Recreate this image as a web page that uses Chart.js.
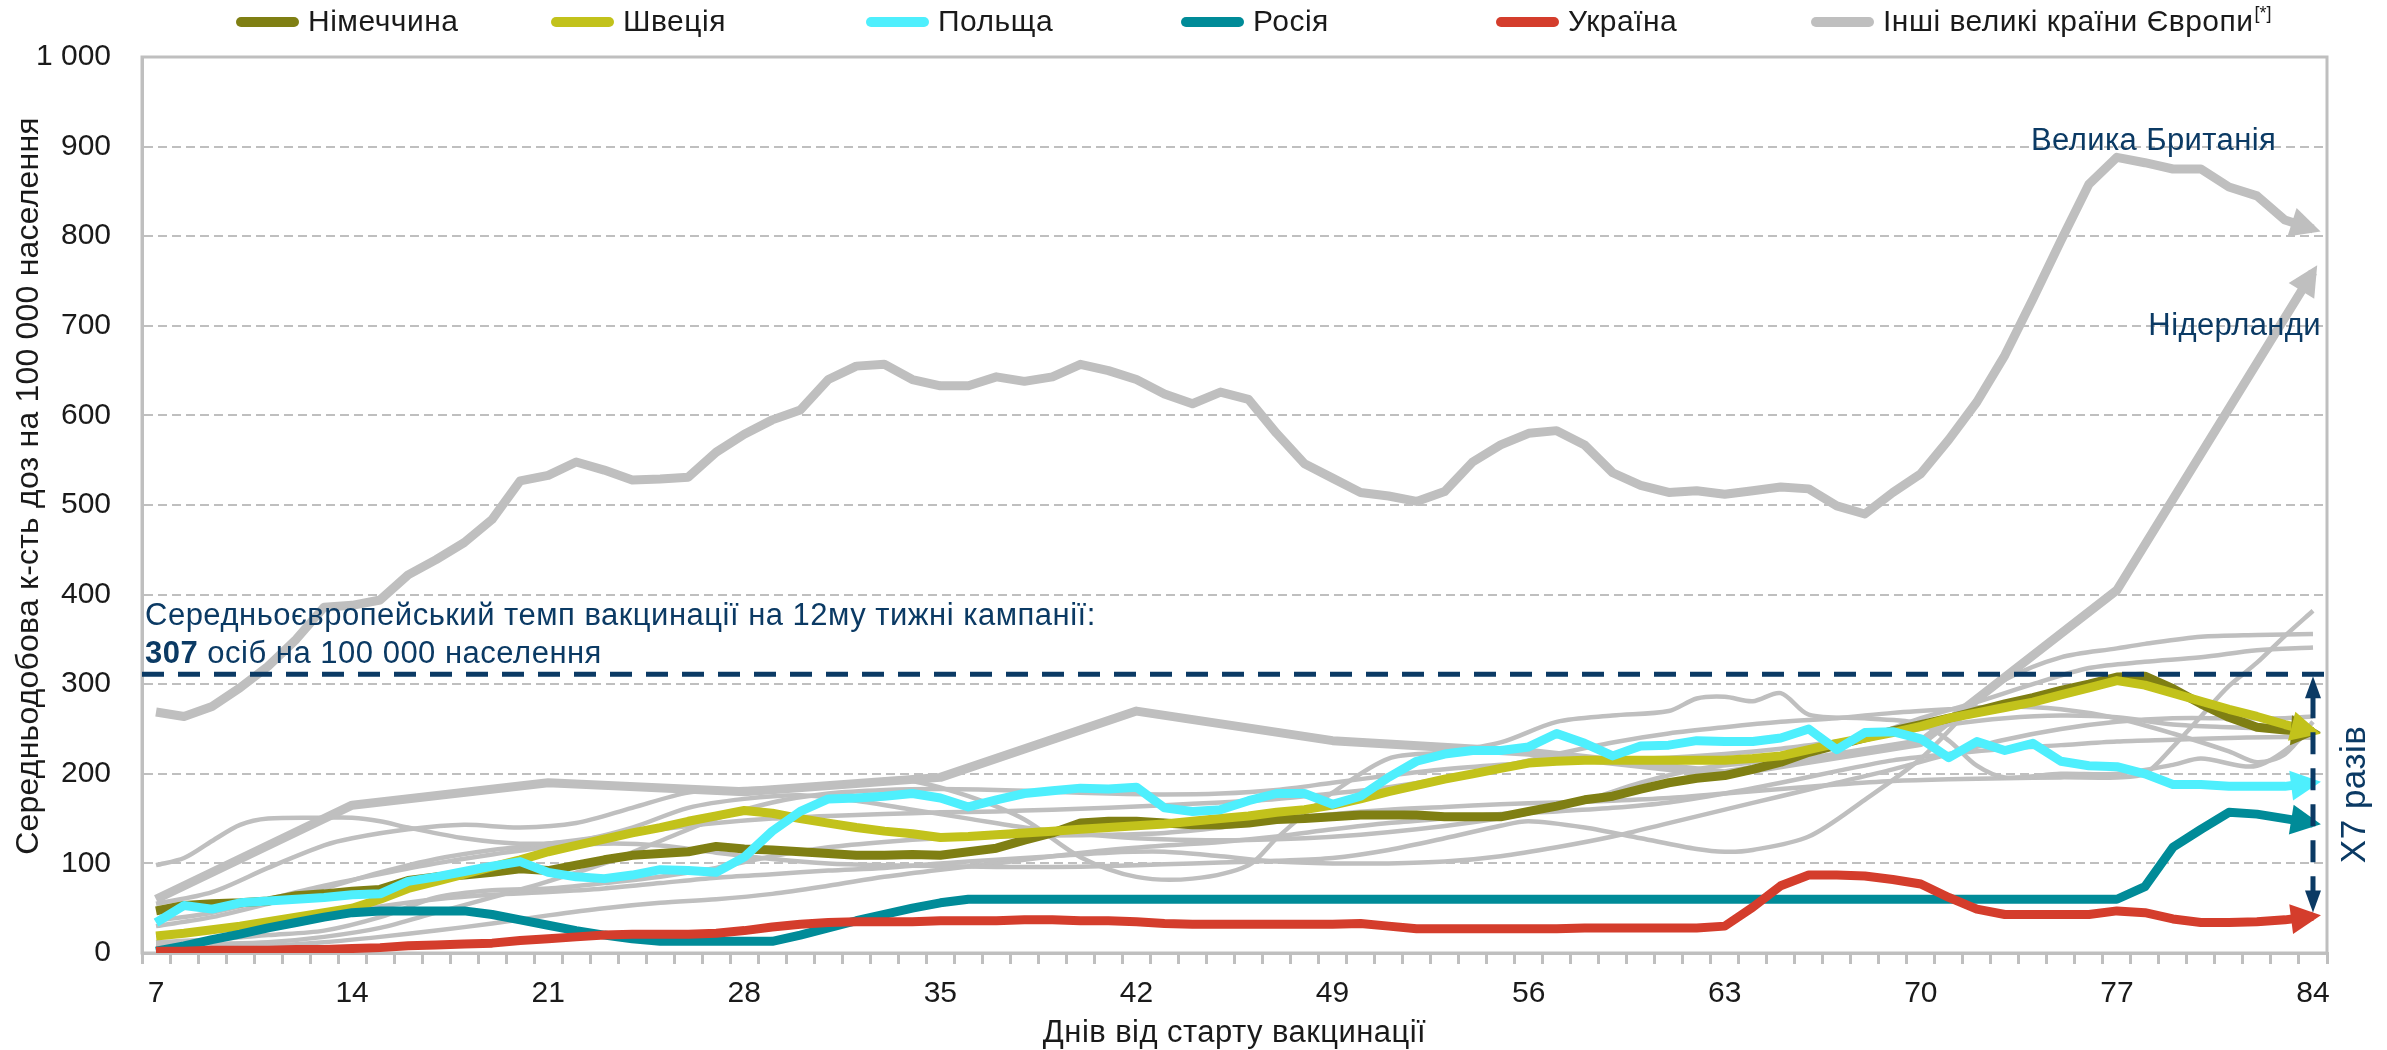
<!DOCTYPE html>
<html>
<head>
<meta charset="utf-8">
<script src="https://cdn.jsdelivr.net/npm/chart.js@4.4.1/dist/chart.umd.min.js"></script>
<style>
  html, body { margin: 0; padding: 0; background: #fff; }
  #wrap { width: 2387px; height: 1050px; position: relative; }
</style>
</head>
<body>
<div id="wrap"><canvas id="chart"></canvas></div>
<script>
'use strict';

// ── Data ─────────────────────────────────────────────────────────────────────
const days = [7, 8, 9, 10, 11, 12, 13, 14, 15, 16, 17, 18, 19, 20, 21, 22, 23, 24, 25, 26,
  27, 28, 29, 30, 31, 32, 33, 34, 35, 36, 37, 38, 39, 40, 41, 42, 43, 44, 45, 46, 47, 48,
  49, 50, 51, 52, 53, 54, 55, 56, 57, 58, 59, 60, 61, 62, 63, 64, 65, 66, 67, 68, 69, 70,
  71, 72, 73, 74, 75, 76, 77, 78, 79, 80, 81, 82, 83, 84];

const germany = [47, 53, 55, 56, 58, 64, 66, 69, 71, 81, 85, 87, 90, 94, 92, 98, 104, 109, 111, 113,
  119, 116, 115, 113, 111, 109, 109, 110, 109, 113, 117, 126, 134, 145, 147, 147, 145, 143, 143, 145,
  149, 150, 152, 154, 154, 154, 152, 152, 152, 158, 164, 171, 175, 183, 190, 195, 198, 205, 213, 224,
  232, 240, 248, 255, 262, 270, 278, 285, 293, 300, 308, 309, 295, 278, 263, 252, 249, 247];

const sweden = [19, 22, 26, 30, 35, 40, 45, 50, 60, 72, 80, 88, 96, 104, 113, 120, 127, 134, 140, 147,
  153, 159, 156, 150, 145, 140, 136, 133, 129, 130, 132, 134, 136, 138, 140, 142, 144, 147, 150, 153,
  157, 160, 165, 172, 180, 187, 194, 200, 206, 212, 214, 215, 215, 215, 215, 215, 215, 217, 220, 227,
  234, 240, 246, 253, 262, 268, 274, 280, 288, 296, 304, 299, 290, 281, 272, 264, 255, 247];

const poland = [34, 53, 49, 56, 58, 60, 62, 65, 66, 80, 85, 91, 97, 102, 90, 85, 83, 87, 93, 92,
  90, 107, 136, 158, 172, 173, 175, 178, 173, 163, 171, 178, 181, 184, 183, 185, 162, 158, 160, 170,
  178, 178, 166, 175, 196, 214, 222, 226, 226, 230, 245, 234, 220, 231, 232, 237, 236, 236, 240, 250,
  227, 246, 247, 239, 218, 236, 226, 234, 214, 209, 208, 200, 188, 188, 186, 186, 186, 190];

const russia = [2, 8, 15, 21, 28, 34, 40, 45, 47, 47, 47, 47, 43, 37, 31, 25, 20, 16, 13, 13,
  13, 13, 13, 20, 28, 36, 43, 50, 56, 60, 60, 60, 60, 60, 60, 60, 60, 60, 60, 60,
  60, 60, 60, 60, 60, 60, 60, 60, 60, 60, 60, 60, 60, 60, 60, 60, 60, 60, 60, 60,
  60, 60, 60, 60, 60, 60, 60, 60, 60, 60, 60, 74, 118, 138, 157, 155, 150, 145];

const ukraine = [2, 2, 3, 3, 3, 4, 4, 5, 6, 8, 9, 10, 11, 14, 16, 18, 20, 21, 21, 21,
  22, 25, 29, 32, 34, 35, 35, 35, 36, 36, 36, 37, 37, 36, 36, 35, 33, 32, 32, 32,
  32, 32, 32, 33, 30, 27, 27, 27, 27, 27, 27, 28, 28, 28, 28, 28, 30, 51, 75, 87,
  87, 86, 82, 77, 62, 49, 43, 43, 43, 43, 47, 45, 38, 34, 34, 35, 37, 41];

const greatBritain = [269, 264, 275, 296, 320, 350, 386, 388, 394, 422, 439, 458, 484, 527, 533, 548, 539, 528, 529, 531,
  559, 579, 595, 606, 640, 655, 657, 640, 633, 633, 643, 638, 643, 657, 650, 640, 624, 613, 626, 618,
  580, 546, 530, 514, 510, 504, 515, 548, 567, 580, 583, 567, 536, 522, 514, 516, 512, 516, 520, 518,
  499, 490, 514, 535, 573, 615, 667, 730, 795, 858, 888, 882, 875, 875, 855, 845, 818, 808];

// Netherlands reports weekly: [day, value]
const netherlands = [[7, 60], [14, 165], [21, 190], [28, 180], [35, 196], [42, 270], [49, 237],
  [56, 224], [63, 200], [70, 235], [77, 405], [84, 760]];

// other large European countries (thin grey lines): [day, value]
const other1 = [[7, 98], [8, 106], [9, 125], [10, 143], [11, 150], [13, 151], [14, 151], [15, 147], [16, 140],
  [18, 128], [20, 122], [22, 125], [24, 140], [26, 162], [28, 172], [30, 176], [32, 170], [34, 160], [36, 150],
  [38, 140], [40, 133], [42, 128], [44, 126], [46, 126], [48, 128], [50, 132], [52, 138], [54, 146], [56, 156],
  [58, 170], [60, 190], [62, 205], [64, 213], [66, 222], [68, 240], [70, 262], [72, 280], [74, 300], [76, 318],
  [78, 325], [80, 330], [82, 338], [84, 341]];
const other2 = [[7, 55], [9, 68], [11, 95], [13, 120], [14, 128], [16, 138], [18, 143], [20, 140], [22, 145],
  [24, 162], [26, 179], [28, 183], [30, 185], [32, 190], [33, 193], [34, 192], [36, 175], [38, 149], [40, 107],
  [42, 85], [44, 83], [46, 98], [47, 128], [48, 155], [49, 179], [51, 217], [53, 224], [55, 235], [57, 258],
  [59, 265], [61, 270], [62, 284], [63, 286], [64, 281], [65, 290], [66, 266], [68, 262], [70, 256], [71, 237],
  [72, 209], [73, 196], [75, 200], [77, 200], [79, 210], [80, 217], [82, 209], [84, 249]];
const other3 = [[7, 36], [9, 45], [11, 60], [13, 75], [15, 88], [17, 100], [19, 110], [21, 118], [23, 122],
  [25, 120], [27, 112], [29, 105], [31, 100], [33, 98], [35, 97], [37, 96], [39, 96], [41, 97], [43, 99],
  [45, 101], [47, 103], [49, 106], [51, 115], [53, 128], [55, 142], [56, 147], [58, 140], [60, 128], [62, 116],
  [63, 113], [64, 115], [66, 130], [68, 171], [70, 217], [72, 280], [73, 305], [75, 330], [77, 340], [78, 345],
  [80, 353], [82, 355], [84, 356]];
const other4 = [[7, 12], [9, 15], [11, 20], [13, 25], [15, 40], [17, 62], [19, 70], [21, 72], [23, 78],
  [25, 85], [27, 95], [29, 108], [31, 118], [33, 124], [35, 128], [37, 130], [39, 131], [41, 132], [43, 134],
  [45, 140], [47, 148], [49, 155], [51, 160], [53, 163], [55, 166], [57, 168], [59, 170], [61, 173], [63, 178],
  [65, 183], [67, 188], [69, 192], [71, 194], [73, 195], [75, 196], [77, 196], [78, 200], [79, 230], [80, 264],
  [81, 298], [82, 324], [83, 354], [84, 382]];
const other5 = [[7, 20], [9, 25], [11, 32], [13, 42], [15, 52], [17, 60], [19, 65], [21, 68], [23, 72],
  [25, 78], [27, 84], [29, 88], [31, 92], [33, 95], [35, 100], [37, 104], [39, 108], [41, 112], [43, 113],
  [45, 108], [47, 102], [49, 100], [51, 100], [53, 102], [55, 108], [57, 118], [59, 130], [61, 145], [63, 160],
  [65, 175], [67, 190], [69, 205], [71, 222], [73, 238], [75, 250], [77, 258], [79, 262], [81, 262], [83, 262],
  [84, 264]];
const other6 = [[7, 30], [9, 40], [11, 55], [13, 72], [15, 90], [17, 105], [19, 115], [21, 122], [23, 130],
  [25, 138], [27, 145], [29, 150], [31, 153], [33, 155], [35, 157], [37, 158], [39, 160], [41, 162], [43, 165],
  [45, 168], [47, 172], [49, 178], [51, 185], [53, 195], [55, 208], [57, 222], [59, 235], [61, 245], [63, 252],
  [65, 258], [67, 262], [69, 268], [71, 272], [73, 275], [75, 272], [77, 262], [79, 245], [81, 225], [82, 213],
  [83, 222], [84, 258]];
const other7 = [[7, 8], [9, 10], [11, 12], [13, 18], [15, 28], [17, 45], [19, 62], [21, 80], [23, 100],
  [25, 125], [27, 150], [29, 168], [31, 178], [33, 182], [35, 183], [37, 182], [39, 180], [41, 178], [43, 177],
  [45, 178], [47, 182], [49, 190], [51, 198], [53, 205], [55, 210], [57, 214], [59, 216], [61, 218], [63, 222],
  [65, 228], [67, 236], [69, 245], [71, 255], [73, 262], [75, 265], [77, 263], [79, 255], [81, 252], [83, 250],
  [84, 249]];
const other8 = [[7, 5], [9, 6], [11, 8], [13, 12], [15, 18], [17, 25], [19, 33], [21, 42], [23, 50],
  [25, 56], [27, 60], [29, 66], [31, 75], [33, 85], [35, 93], [37, 100], [39, 108], [41, 115], [43, 120],
  [45, 124], [47, 130], [49, 138], [51, 145], [53, 150], [55, 155], [57, 158], [59, 162], [61, 168], [63, 178],
  [65, 190], [67, 203], [69, 215], [71, 222], [73, 228], [75, 232], [77, 236], [79, 238], [81, 240], [83, 241],
  [84, 240]];
const otherCountries = [other1, other2, other3, other4, other5, other6, other7, other8];

const yTicks = [0, 100, 200, 300, 400, 500, 600, 700, 800, 900, 1000];
const xLabelDays = [7, 14, 21, 28, 35, 42, 49, 56, 63, 70, 77, 84];

const europeAvg = 311;          // where the dashed "307" line sits on the picture
const ratioFrom = 43;           // lower end of the X7 arrow (Ukraine, day 84)

const legendItems = [
  { label: 'Німеччина', color: '#7F7F13' },
  { label: 'Швеція', color: '#C2C21B' },
  { label: 'Польща', color: '#4EEFFD' },
  { label: 'Росія', color: '#008B98' },
  { label: 'Україна', color: '#D43D2C' },
  { label: 'Інші великі країни Європи', color: '#BFBFBF', sup: '[*]' },
];

// ── Styles ───────────────────────────────────────────────────────────────────
const FONT = '"Liberation Sans", Arial, sans-serif';
const NAVY = '#0B3A64';
const GREY = '#BFBFBF';
const INK = '#1a1a1a';

function pairs(list) {
  return list.map(([x, y]) => ({ x, y }));
}

const thinGrey = otherCountries.map(list => ({
  data: pairs(list),
  borderColor: GREY,
  borderWidth: 4.5,
  tension: 0.3,
}));

// first entry ends up on top
const datasets = [
  { data: ukraine, borderColor: '#D43D2C', borderWidth: 9, arrow: true },
  { data: russia, borderColor: '#008B98', borderWidth: 9, arrow: true },
  { data: poland, borderColor: '#4EEFFD', borderWidth: 9, arrow: true },
  { data: sweden, borderColor: '#C2C21B', borderWidth: 9, arrow: true },
  { data: germany, borderColor: '#7F7F13', borderWidth: 9, arrow: true },
  { data: greatBritain, borderColor: GREY, borderWidth: 9, arrow: true },
  { data: pairs(netherlands), borderColor: GREY, borderWidth: 9, arrow: true },
  ...thinGrey,
];

// ── Helpers ──────────────────────────────────────────────────────────────────
function text(ctx, str, x, y, size, opts = {}) {
  ctx.font = (opts.bold ? 'bold ' : '') + size + 'px ' + FONT;
  ctx.letterSpacing = (opts.spacing || 0) + 'px';
  ctx.fillStyle = opts.color || INK;
  ctx.textAlign = opts.align || 'left';
  ctx.textBaseline = opts.baseline || 'alphabetic';
  ctx.fillText(str, x, y);
  const w = ctx.measureText(str).width;
  ctx.letterSpacing = '0px';
  return w;
}

function arrowHead(ctx, x0, y0, x1, y1, len, half, color) {
  const ang = Math.atan2(y1 - y0, x1 - x0);
  const tx = x1 + Math.cos(ang) * 8;
  const ty = y1 + Math.sin(ang) * 8;
  const bx = tx - Math.cos(ang) * len;
  const by = ty - Math.sin(ang) * len;
  ctx.fillStyle = color;
  ctx.beginPath();
  ctx.moveTo(tx, ty);
  ctx.lineTo(bx + Math.sin(ang) * half, by - Math.cos(ang) * half);
  ctx.lineTo(bx - Math.sin(ang) * half, by + Math.cos(ang) * half);
  ctx.closePath();
  ctx.fill();
}

// ── Plugins ──────────────────────────────────────────────────────────────────
const framePlugin = {
  id: 'frame',
  beforeDatasetsDraw(chart) {
    const { ctx, chartArea: a } = chart;
    ctx.save();
    ctx.strokeStyle = GREY;
    ctx.lineWidth = 3;
    ctx.strokeRect(a.left, a.top, a.right - a.left, a.bottom - a.top);
    ctx.restore();
  },
};

const arrowsPlugin = {
  id: 'arrows',
  afterDatasetsDraw(chart) {
    const ctx = chart.ctx;
    ctx.save();
    for (let i = chart.data.datasets.length - 1; i >= 0; i--) {
      const ds = chart.data.datasets[i];
      if (!ds.arrow) continue;
      const pts = chart.getDatasetMeta(i).data;
      const p1 = pts[pts.length - 1];
      const p0 = pts[pts.length - 2];
      arrowHead(ctx, p0.x, p0.y, p1.x, p1.y, 30, 15, ds.borderColor);
    }
    ctx.restore();
  },
};

const notesPlugin = {
  id: 'notes',
  afterDatasetsDraw(chart) {
    const { ctx, chartArea: a, scales: { x, y } } = chart;
    const xEnd = x.getPixelForValue(days.length - 1);
    const yAvg = y.getPixelForValue(europeAvg);
    const yLow = y.getPixelForValue(ratioFrom);
    ctx.save();

    // average line
    ctx.strokeStyle = NAVY;
    ctx.lineWidth = 5;
    ctx.setLineDash([22, 14]);
    ctx.beginPath();
    ctx.moveTo(a.left, yAvg);
    ctx.lineTo(xEnd + 12, yAvg);
    ctx.stroke();

    // vertical double arrow
    ctx.beginPath();
    ctx.moveTo(xEnd, yAvg + 22);
    ctx.lineTo(xEnd, yLow - 22);
    ctx.stroke();
    ctx.setLineDash([]);
    ctx.fillStyle = NAVY;
    ctx.beginPath();
    ctx.moveTo(xEnd, yAvg + 2);
    ctx.lineTo(xEnd - 8, yAvg + 24);
    ctx.lineTo(xEnd + 8, yAvg + 24);
    ctx.closePath();
    ctx.fill();
    ctx.beginPath();
    ctx.moveTo(xEnd, yLow - 2);
    ctx.lineTo(xEnd - 8, yLow - 24);
    ctx.lineTo(xEnd + 8, yLow - 24);
    ctx.closePath();
    ctx.fill();

    // notes
    const nav = { color: NAVY, spacing: 0.5 };
    text(ctx, 'Середньоєвропейський темп вакцинації на 12му тижні кампанії:', a.left + 3, 625, 31, nav);
    const w307 = text(ctx, '307', a.left + 3, 663, 31, { ...nav, bold: true });
    text(ctx, ' осіб на 100 000 населення', a.left + 3 + w307, 663, 31, nav);

    text(ctx, 'Велика Британія', 2031, 150, 31, { color: NAVY, spacing: 0.4 });
    text(ctx, 'Нідерланди', 2321, 335, 31, { color: NAVY, spacing: 0.4, align: 'right' });

    ctx.translate(xEnd + 42, (yAvg + yLow) / 2);
    ctx.rotate(-Math.PI / 2);
    text(ctx, 'X7 разів', 0, 0, 35, { color: NAVY, spacing: 0.5, align: 'center', baseline: 'middle' });
    ctx.restore();
  },
};

const titlesPlugin = {
  id: 'titles',
  afterDraw(chart) {
    const { ctx, chartArea: a } = chart;
    ctx.save();
    text(ctx, 'Днів від старту вакцинації', (a.left + a.right) / 2, 1033, 31,
      { spacing: 0.45, align: 'center', baseline: 'middle' });
    ctx.translate(29, 486);
    ctx.rotate(-Math.PI / 2);
    text(ctx, 'Середньодобова к-сть доз на 100 000 населення', 0, 0, 32,
      { spacing: 0.2, align: 'center', baseline: 'middle' });
    ctx.restore();
  },
};

const legendPlugin = {
  id: 'customLegend',
  afterDraw(chart) {
    const ctx = chart.ctx;
    const startX = 236;
    const step = 315;
    const midY = 22;
    ctx.save();
    ctx.lineCap = 'round';
    ctx.lineWidth = 10;
    legendItems.forEach((item, i) => {
      const x0 = startX + i * step;
      ctx.strokeStyle = item.color;
      ctx.beginPath();
      ctx.moveTo(x0 + 5, midY);
      ctx.lineTo(x0 + 58, midY);
      ctx.stroke();
      const w = text(ctx, item.label, x0 + 72, midY + 1, 30, { spacing: 0.5, baseline: 'middle' });
      if (item.sup) {
        text(ctx, item.sup, x0 + 73 + w, midY - 8, 18, { baseline: 'middle' });
      }
    });
    ctx.restore();
  },
};

// ── Chart ────────────────────────────────────────────────────────────────────
new Chart(document.getElementById('chart'), {
  type: 'line',
  data: { labels: days, datasets },
  options: {
    responsive: true,
    maintainAspectRatio: false,
    animation: false,
    events: [],
    layout: { padding: { left: 0, right: 60, top: 57, bottom: 0 } },
    elements: {
      point: { radius: 0 },
      line: { tension: 0, borderCapStyle: 'butt', borderJoinStyle: 'round' },
    },
    plugins: {
      legend: { display: false },
      tooltip: { enabled: false },
    },
    scales: {
      x: {
        type: 'category',
        offset: true,
        afterFit(scale) { scale.height = 97; },
        grid: {
          display: true,
          offset: true,
          drawOnChartArea: false,
          drawTicks: true,
          tickLength: 11,
          color: GREY,
          lineWidth: 3,
        },
        border: { display: true, color: GREY, width: 3 },
        ticks: {
          autoSkip: false,
          maxRotation: 0,
          padding: 12,
          color: INK,
          font: { family: FONT, size: 30 },
          callback(value) {
            const d = days[value];
            return xLabelDays.includes(d) ? String(d) : '';
          },
        },
      },
      y: {
        min: 0,
        max: 1000,
        afterFit(scale) { scale.width = 142; },
        afterBuildTicks(scale) { scale.ticks = yTicks.map(v => ({ value: v })); },
        grid: {
          drawTicks: false,
          color: GREY,
          lineWidth: 2,
        },
        border: { display: true, color: GREY, width: 3, dash: [9, 5] },
        ticks: {
          padding: 31,
          color: INK,
          font: { family: FONT, size: 30 },
          callback(value) { return value >= 1000 ? '1 000' : String(value); },
        },
      },
    },
  },
  plugins: [framePlugin, arrowsPlugin, notesPlugin, titlesPlugin, legendPlugin],
});
</script>
</body>
</html>
